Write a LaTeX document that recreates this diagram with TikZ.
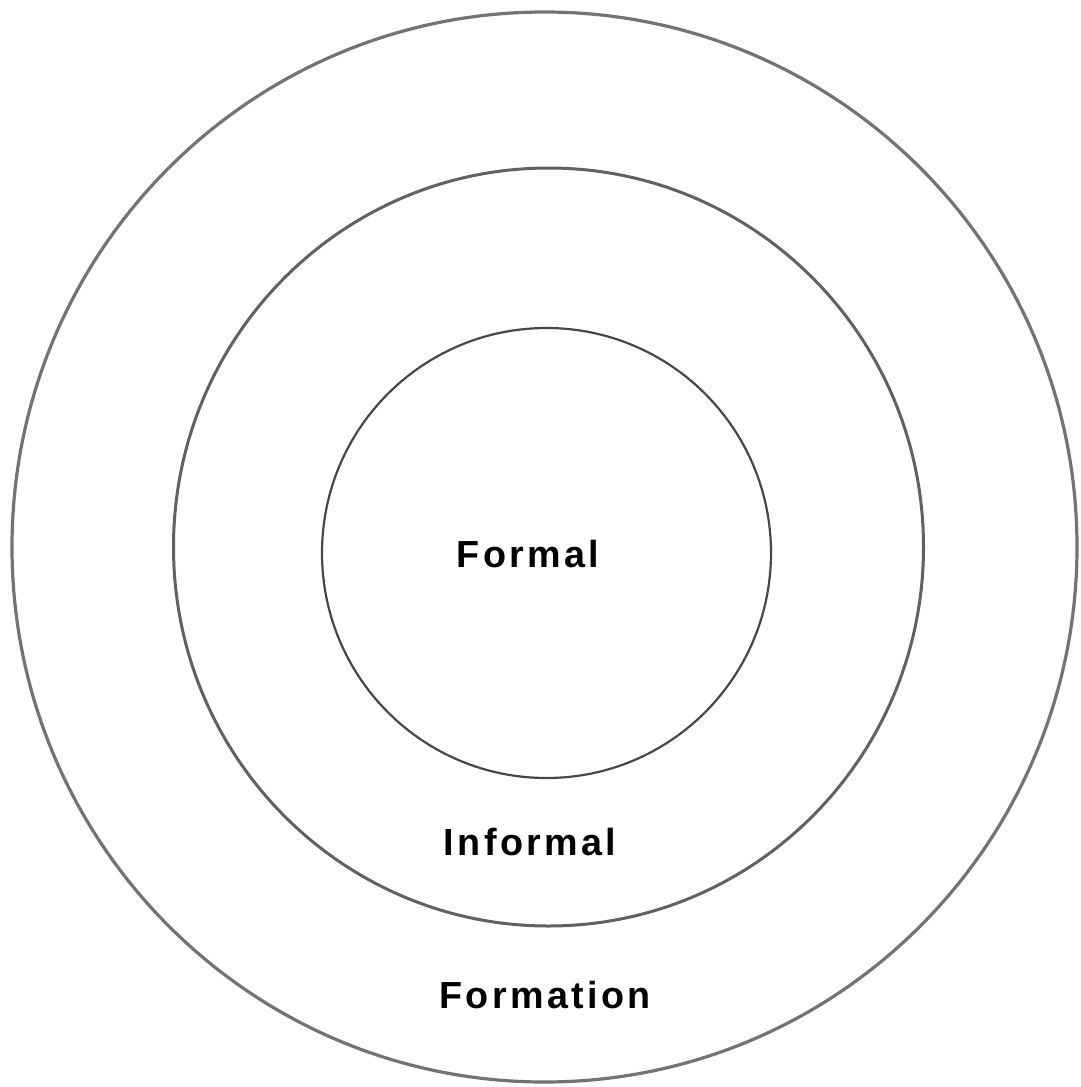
\documentclass[tikz,border=0pt]{standalone}
\usepackage{fontspec}
\setmainfont{Liberation Sans}[LetterSpace=9]
\tikzset{
  ring/.style={line width=#1},
  lbl/.style={anchor=base, inner sep=0pt, font=\fontsize{37.7}{40}\selectfont\bfseries, text=black}
}
\begin{document}
\begin{tikzpicture}[x=1pt,y=-1pt]
\useasboundingbox[fill=white] (0,0) rectangle (1080,1087);
\coordinate (co) at (544.5,547);
\coordinate (cm) at (548.5,547);
\coordinate (ci) at (546.5,553);
\draw[ring=3.2pt, draw=black!55] (co) ellipse [x radius=532.5, y radius=535];
\draw[ring=3pt, draw=black!62] (cm) ellipse [x radius=375, y radius=379];
\draw[ring=2.2pt, draw=black!72] (ci) ellipse [x radius=224.5, y radius=225];
\node[lbl] (formal) at (528,567) {Formal};
\node[lbl] (informal) at (530,855) {Informal};
\node[lbl] (formation) at (545,1008) {Formation};
\end{tikzpicture}
\end{document}
